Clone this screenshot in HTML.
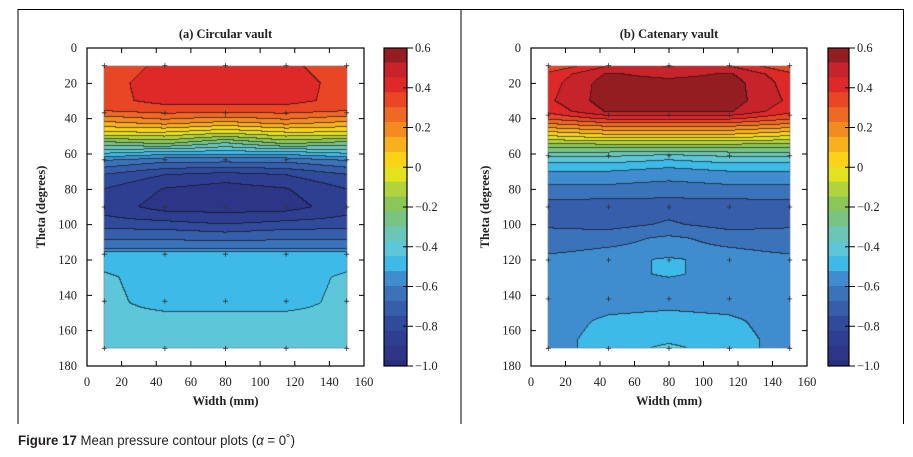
<!DOCTYPE html>
<html><head><meta charset="utf-8"><style>
html,body{margin:0;padding:0;background:#fff;width:913px;height:457px;overflow:hidden}
#root{position:relative;width:913px;height:457px}
canvas{position:absolute;left:0;top:0}
svg{position:absolute;left:0;top:0}
</style></head><body>
<div id="root">
<canvas id="cv" width="913" height="457"></canvas>
<svg id="sv" width="913" height="457" xmlns="http://www.w3.org/2000/svg"></svg>
</div>
<script>
const widths = [10, 45, 80, 115, 150];
const leftThetas = [10,20,30,36,42,48,54,60,64,72,80,90,98,106,113,116,130,144,150,170];
const leftValues = [
[0.33,0.4,0.4,0.4,0.33],
[0.35,0.42,0.42,0.42,0.35],
[0.35,0.41,0.41,0.41,0.35],
[0.3,0.33,0.33,0.33,0.3],
[0.15,0.2,0.15,0.2,0.15],
[0.0,0.0,-0.05,0.0,0.0],
[-0.25,-0.2,-0.3,-0.2,-0.25],
[-0.45,-0.5,-0.5,-0.5,-0.45],
[-0.6,-0.65,-0.65,-0.65,-0.6],
[-0.75,-0.82,-0.85,-0.82,-0.75],
[-0.82,-0.9,-0.93,-0.9,-0.82],
[-0.85,-0.93,-0.93,-0.93,-0.85],
[-0.8,-0.82,-0.85,-0.82,-0.8],
[-0.7,-0.7,-0.72,-0.7,-0.7],
[-0.62,-0.62,-0.62,-0.62,-0.62],
[-0.5,-0.5,-0.5,-0.5,-0.5],
[-0.43,-0.49,-0.49,-0.49,-0.43],
[-0.42,-0.48,-0.48,-0.48,-0.42],
[-0.42,-0.44,-0.44,-0.44,-0.42],
[-0.42,-0.42,-0.42,-0.42,-0.42]];
const rightThetas = [10,15,20,30,36,40,44,50,56,62,68,74,80,90,100,108,116,120,128,135,144,155,165,170];
const rightValues = [
[0.3,0.45,0.45,0.45,0.3],
[0.4,0.54,0.5,0.54,0.4],
[0.42,0.57,0.56,0.57,0.42],
[0.44,0.57,0.57,0.57,0.44],
[0.4,0.54,0.54,0.54,0.4],
[0.32,0.4,0.4,0.4,0.32],
[0.2,0.25,0.25,0.25,0.2],
[0.0,0.05,0.05,0.05,0.0],
[-0.2,-0.2,-0.2,-0.2,-0.2],
[-0.38,-0.38,-0.42,-0.38,-0.38],
[-0.5,-0.5,-0.52,-0.5,-0.5],
[-0.56,-0.56,-0.58,-0.56,-0.56],
[-0.62,-0.62,-0.64,-0.62,-0.62],
[-0.7,-0.71,-0.7,-0.71,-0.7],
[-0.68,-0.7,-0.66,-0.7,-0.68],
[-0.64,-0.62,-0.58,-0.62,-0.64],
[-0.6,-0.58,-0.57,-0.58,-0.6],
[-0.57,-0.57,-0.5,-0.57,-0.57],
[-0.57,-0.57,-0.5,-0.57,-0.57],
[-0.57,-0.57,-0.57,-0.57,-0.57],
[-0.57,-0.56,-0.55,-0.56,-0.57],
[-0.57,-0.5,-0.48,-0.5,-0.57],
[-0.56,-0.48,-0.46,-0.48,-0.56],
[-0.56,-0.48,-0.43,-0.48,-0.56]];
const leftMarkerThetas = [10,36.7,63.3,90,116.7,143.3,170];
const rightMarkerThetas = [10,38,61,90,120,142,170];
const xTicks = [0,20,40,60,80,100,120,140,160];
const yTicks = [0,20,40,60,80,100,120,140,160,180];
const cbTicks = [0.6,0.4,0.2,0,-0.2,-0.4,-0.6,-0.8,-1.0];
const cbLabels = ["0.6","0.4","0.2","0","\u22120.2","\u22120.4","\u22120.6","\u22120.8","\u22121.0"];

const stops=[[-1.0,[42,44,124]],[-0.8,[47,70,153]],[-0.65,[58,109,181]],[-0.55,[63,143,208]],[-0.5,[53,182,233]],[-0.42,[91,198,223]],[-0.33,[108,198,182]],[-0.2,[130,195,95]],[-0.1,[181,212,58]],[0,[251,231,18]],[0.1,[249,184,27]],[0.2,[243,136,32]],[0.3,[236,90,37]],[0.4,[229,42,40]],[0.5,[195,34,42]],[0.6,[125,26,29]]];
function cmap(v){
  if(v<=stops[0][0])return stops[0][1];
  for(let i=1;i<stops.length;i++){if(v<=stops[i][0]){const a=stops[i-1],b=stops[i],t=(v-a[0])/(b[0]-a[0]);return a[1].map((c,k)=>Math.round(c+(b[1][k]-c)*t));}}
  return stops[stops.length-1][1];
}
const STEP=0.075, VMIN=-0.97;
function lev(v){return Math.floor((v-VMIN)/STEP);}
function levColor(l){return cmap(Math.max(-1,Math.min(0.6,VMIN+(l+0.5)*STEP)));}

const NS="http://www.w3.org/2000/svg";
const sv=document.getElementById('sv');
function mk(tag,attrs,parent){const e=document.createElementNS(NS,tag);for(const k in attrs)e.setAttribute(k,attrs[k]);(parent||sv).appendChild(e);return e;}
const ctx=document.getElementById('cv').getContext('2d');

function interp(thetas,vals,w,t){
  let i=0;while(i<thetas.length-2&&t>thetas[i+1])i++;
  let j=0;while(j<widths.length-2&&w>widths[j+1])j++;
  const ty=Math.min(1,Math.max(0,(t-thetas[i])/(thetas[i+1]-thetas[i])));
  const tx=Math.min(1,Math.max(0,(w-widths[j])/(widths[j+1]-widths[j])));
  const a=vals[i][j],b=vals[i][j+1],c=vals[i+1][j],d=vals[i+1][j+1];
  return (a*(1-tx)+b*tx)*(1-ty)+(c*(1-tx)+d*tx)*ty;
}

function panel(cfg){
  const g=mk('g',{});
  
  
  const X0=cfg.x0,X1=cfg.x1,Y0=48,Y1=366;
  const xs=v=>X0+(v-0)/(160)*(X1-X0);
  const ys=v=>Y0+(v/180)*(Y1-Y0);
  const xinv=p=>(p-X0)/(X1-X0)*160;
  const yinv=p=>(p-Y0)/(Y1-Y0)*180;
  const px0=Math.round(xs(10)),px1=Math.round(xs(150)),py0=Math.round(ys(10)),py1=Math.round(ys(170));
  const W=px1-px0,H=py1-py0;
  const L=[];
  for(let y=0;y<=H;y++){L.push([]);for(let x=0;x<=W;x++){L[y].push(lev(interp(cfg.thetas,cfg.values,xinv(px0+x+0.5),yinv(py0+y+0.5))));}}
  const img=ctx.createImageData(W,H);
  for(let y=0;y<H;y++)for(let x=0;x<W;x++){
    let c=levColor(L[y][x]);
    if(L[y][x]!==L[y][x+1]||L[y][x]!==L[y+1][x])c=c.map(v=>Math.round(v*0.35+10));
    const o=(y*W+x)*4;img.data[o]=c[0];img.data[o+1]=c[1];img.data[o+2]=c[2];img.data[o+3]=255;
  }
  ctx.putImageData(img,px0,py0);
  mk('rect',{x:px0,y:py0,width:W,height:H,fill:'none',stroke:'#777','stroke-width':0.6},g);
  cfg.markers.forEach(t=>widths.forEach(w=>{
    const m=mk('path',{d:`M${xs(w)-2.5},${ys(t)}h5M${xs(w)},${ys(t)-2.5}v5`,stroke:'#333','stroke-width':0.8},g);
    
    
  }));
  const ax=mk('rect',{x:X0,y:Y0,width:X1-X0,height:Y1-Y0,fill:'none',stroke:'#000','stroke-width':1.2},g);
  
  xTicks.forEach(v=>{
    mk('path',{d:`M${xs(v)},${Y1}v-5M${xs(v)},${Y0}v5`,stroke:'#000','stroke-width':1},g);
    const t=mk('text',{x:xs(v),y:386,'text-anchor':'middle','font-size':12.5,'font-family':'Liberation Serif, serif',fill:'#222'},g);
    t.textContent=v;
  });
  yTicks.forEach(v=>{
    mk('path',{d:`M${X0},${ys(v)}h5M${X1},${ys(v)}h-5`,stroke:'#000','stroke-width':1},g);
    const t=mk('text',{x:X0-10,y:ys(v)+4,'text-anchor':'end','font-size':12.5,'font-family':'Liberation Serif, serif',fill:'#222'},g);
    t.textContent=v;
  });
  const tt=mk('text',{x:(X0+X1)/2,y:38,'text-anchor':'middle','font-size':12.5,'font-weight':'bold','font-family':'Liberation Serif, serif',fill:'#222'},g);
  tt.textContent=cfg.title;
  const xt=mk('text',{x:(X0+X1)/2,y:405,'text-anchor':'middle','font-size':12.5,'font-weight':'bold','font-family':'Liberation Serif, serif',fill:'#222'},g);
  xt.textContent='Width (mm)';
  const yt=mk('text',{x:0,y:0,transform:`translate(${cfg.ylx},207) rotate(-90)`,'text-anchor':'middle','font-size':12.5,'font-weight':'bold','font-family':'Liberation Serif, serif',fill:'#222'},g);
  yt.textContent='Theta (degrees)';
  const C0=cfg.cb0,C1=cfg.cb1;
  const cs=v=>Y0+(0.6-v)/1.6*(Y1-Y0);
  for(let l=-1;l<22;l++){
    const v0=Math.max(-1,VMIN+l*STEP),v1=Math.min(0.6,VMIN+(l+1)*STEP);
    if(v1<=v0)continue;
    const c=levColor(l);
    mk('rect',{x:C0,y:cs(v1),width:C1-C0,height:cs(v0)-cs(v1)+0.5,fill:`rgb(${c})`},g);
  }
  const cb=mk('rect',{x:C0,y:Y0,width:C1-C0,height:Y1-Y0,fill:'none',stroke:'#000','stroke-width':1.2},g);
  
  cbTicks.forEach((v,i)=>{
    mk('path',{d:`M${C1-4},${cs(v)}h10`,stroke:'#000','stroke-width':1},g);
    const t=mk('text',{x:C1+8,y:cs(v)+4,'font-size':12.5,'font-family':'Liberation Serif, serif',fill:'#222'},g);
    t.textContent=cbLabels[i];
  });
}
panel({name:'circular-vault-panel',title:'(a) Circular vault',x0:87,x1:364,cb0:384,cb1:407,ylx:45,thetas:leftThetas,values:leftValues,markers:leftMarkerThetas});
panel({name:'catenary-vault-panel',title:'(b) Catenary vault',x0:531,x1:807,cb0:828,cb1:849,ylx:489,thetas:rightThetas,values:rightValues,markers:rightMarkerThetas});
const b=mk('path',{d:'M18,424V9.5H903.5V424M461,9.5V424',fill:'none',stroke:'#000','stroke-width':1});

const cap=mk('text',{x:18,y:445,'font-size':14,'font-family':'Liberation Sans, sans-serif',fill:'#231f20',textLength:277,lengthAdjust:'spacingAndGlyphs'});

const s1=mk('tspan',{'font-weight':'bold'},cap);s1.textContent='Figure 17 ';
const s2=mk('tspan',{},cap);s2.textContent='Mean pressure contour plots (';
const s3=mk('tspan',{'font-style':'italic'},cap);s3.textContent='α';
const s4=mk('tspan',{},cap);s4.textContent=' = 0˚)';
</script>
</body></html>
